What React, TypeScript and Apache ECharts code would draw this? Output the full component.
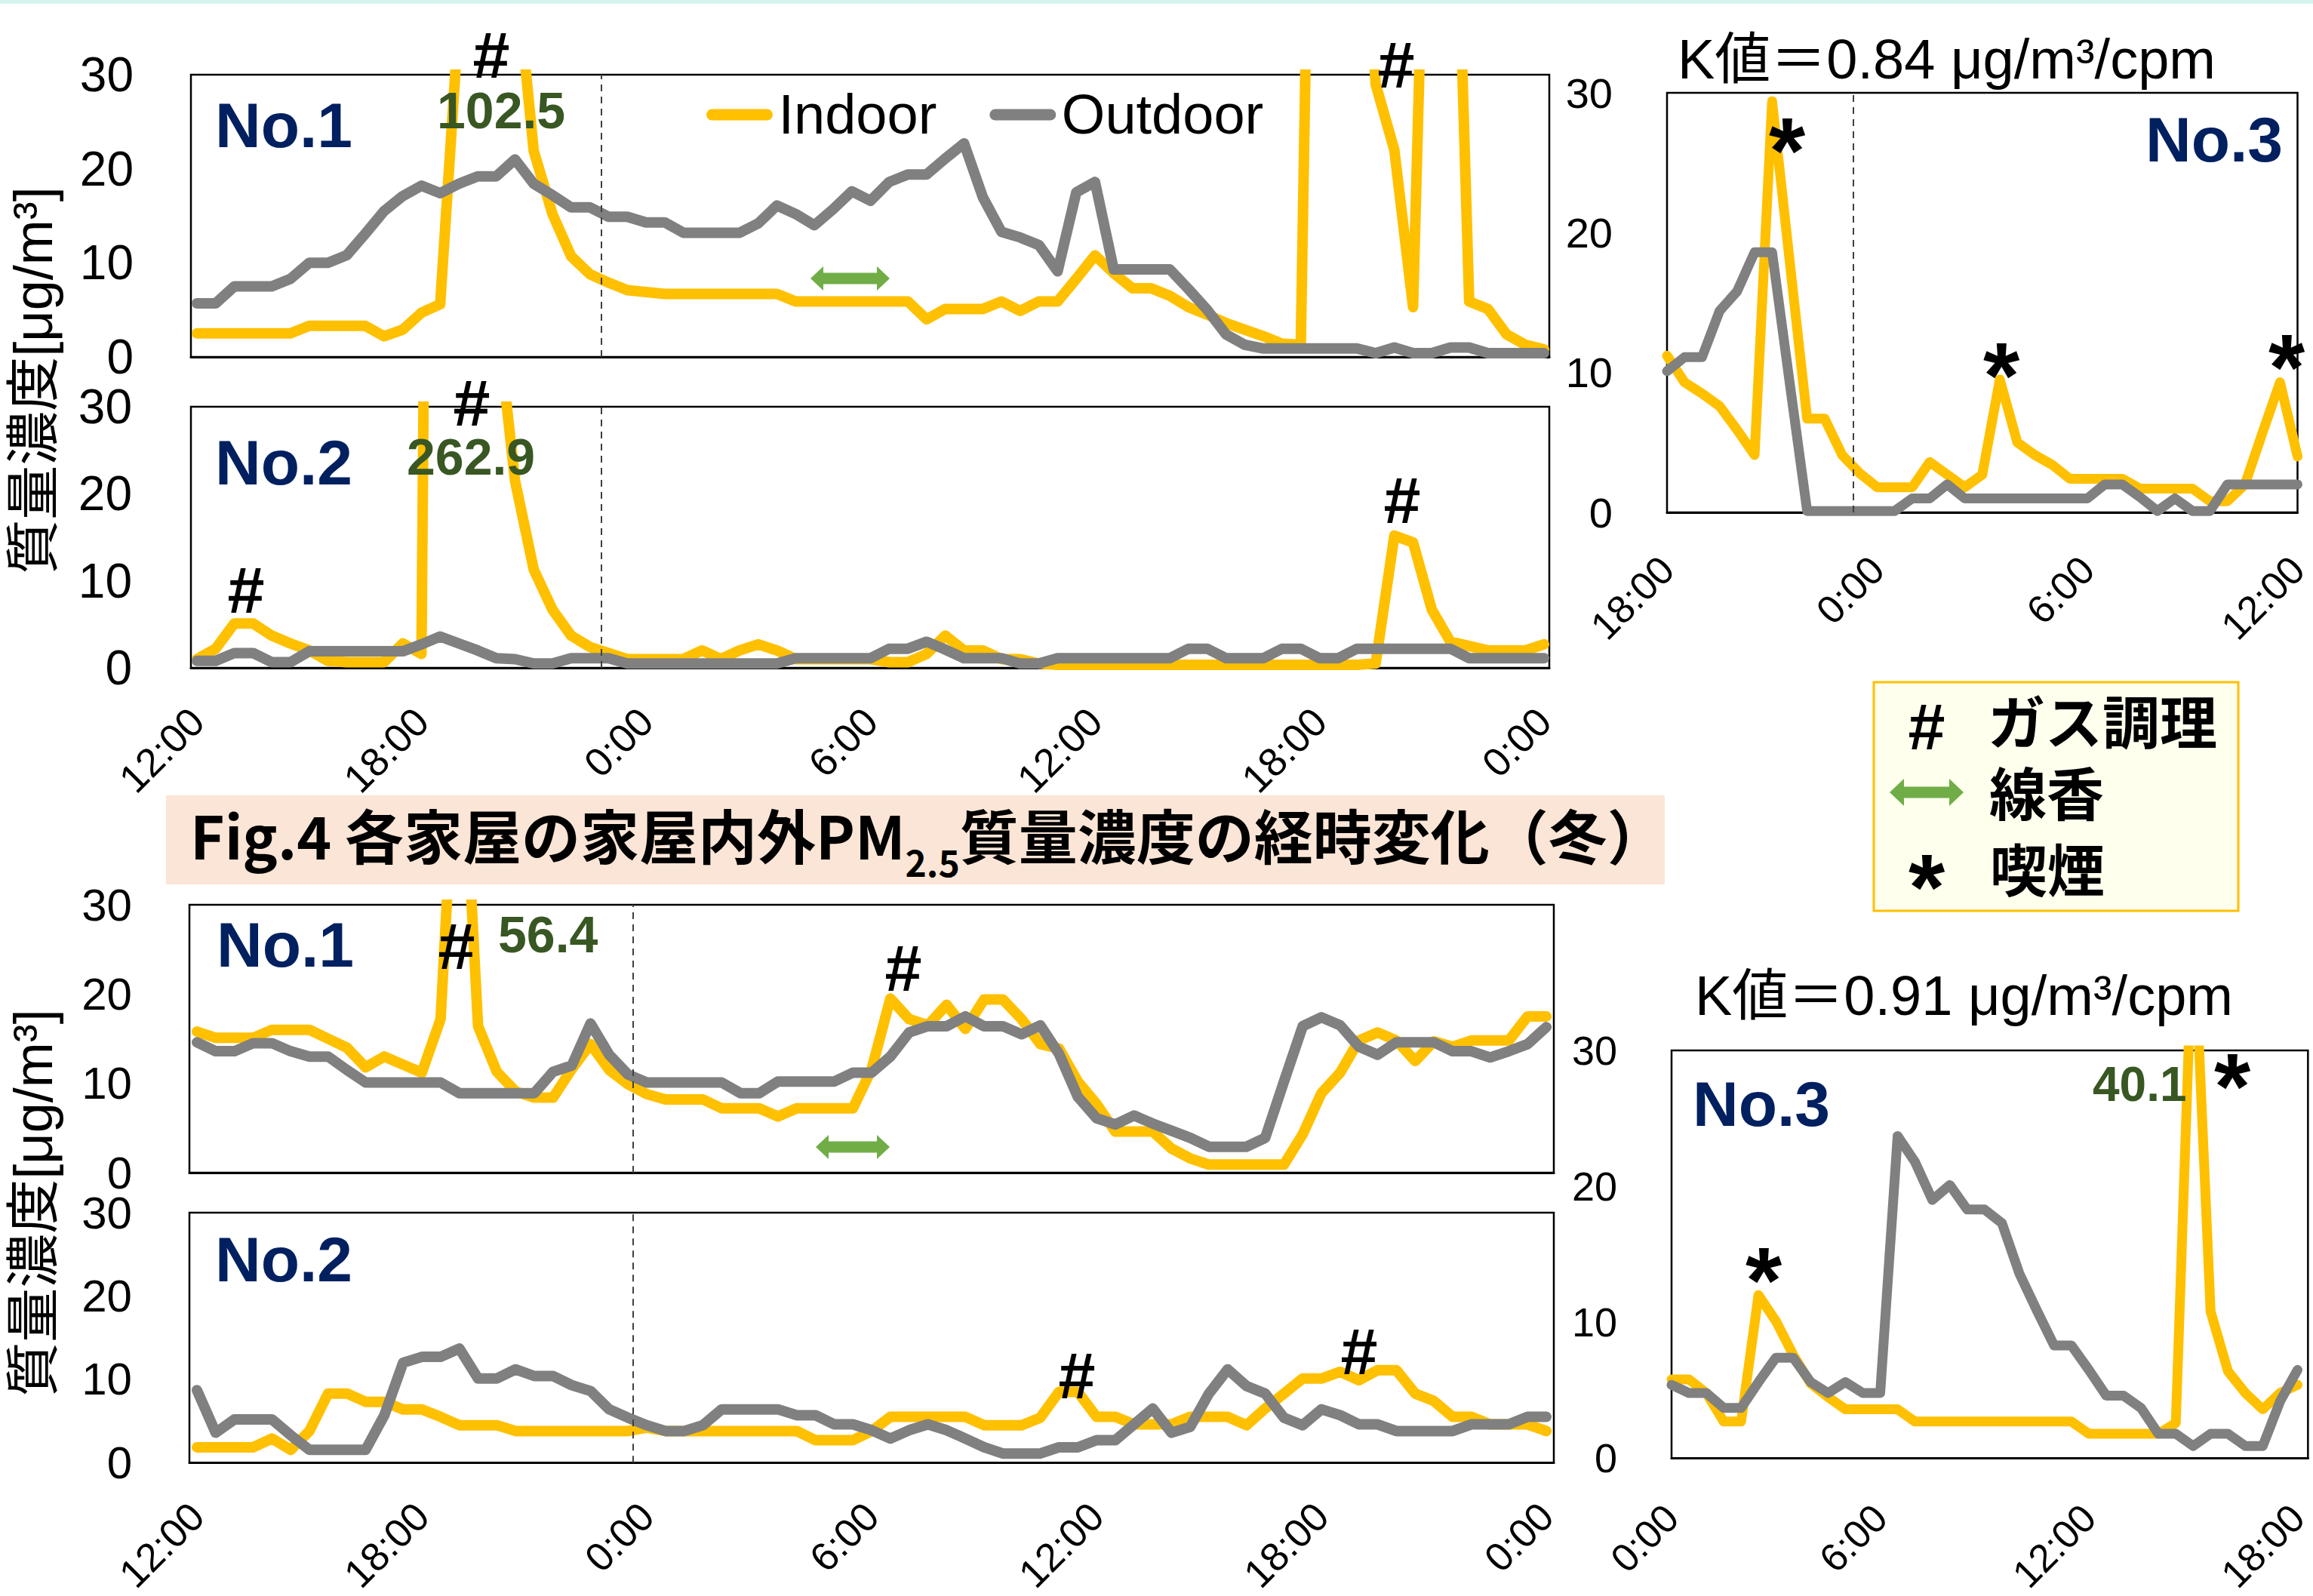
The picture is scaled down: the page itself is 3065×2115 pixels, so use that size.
import React, { useEffect, useRef } from "react";
import * as echarts from "echarts";

const W = 3065;
const H = 2115;
const FONT = "'Liberation Sans', Arial, 'Noto Sans CJK JP', sans-serif";
const JFONT = "'Noto Sans CJK JP', 'Liberation Sans', sans-serif";

const YELLOW = "#FFC000";
const GREY = "#808080";
const NAVY = "#002060";
const DKGREEN = "#385723";
const ARROW = "#70AD47";

// sampling interval (hours) of every series
const STEP_H = 0.5;

// tick labels
const labelsTwoDay = ["12:00", "18:00", "0:00", "6:00", "12:00", "18:00", "0:00"];
const labelsTopNo3 = ["18:00", "0:00", "6:00", "12:00"];
const labelsBotNo3 = ["0:00", "6:00", "12:00", "18:00"];

// ---- upper set (12:00 -> 0:00 two days later), 30-min values ----
const topNo1Indoor = [2.5, 2.5, 2.5, 2.5, 2.5, 2.5, 3.3, 3.3, 3.3, 3.3, 2.2, 2.9, 4.7, 5.6, 36, 102.5, 70, 42, 21.9, 15.2, 10.7, 8.8, 7.9, 7.1, 6.9, 6.7, 6.7, 6.7, 6.7, 6.7, 6.7, 6.7, 5.9, 5.9, 5.9, 5.9, 5.9, 5.9, 5.9, 4.0, 5.1, 5.1, 5.1, 5.9, 4.9, 5.9, 5.9, 8.3, 10.8, 8.9, 7.3, 7.3, 6.5, 5.3, 4.5, 3.6, 2.9, 2.2, 1.4, 1.3, 120, 110, 65, 29, 22, 5.3, 80, 73, 5.9, 5.1, 2.4, 1.3, 0.8];
const topNo1Outdoor = [5.7, 5.7, 7.5, 7.5, 7.5, 8.3, 10, 10, 10.8, 13.1, 15.5, 17.1, 18.2, 17.4, 18.4, 19.2, 19.2, 21, 18.4, 17.2, 15.9, 15.9, 14.9, 14.9, 14.3, 14.3, 13.2, 13.2, 13.2, 13.2, 14.2, 16.1, 15.2, 14.0, 15.7, 17.6, 16.6, 18.6, 19.4, 19.4, 21.1, 22.7, 17, 13.3, 12.7, 11.9, 9.1, 17.5, 18.6, 9.3, 9.3, 9.3, 9.3, 7.2, 5.0, 2.4, 1.3, 0.9, 0.9, 0.9, 0.9, 0.9, 0.9, 0.4, 1.0, 0.4, 0.4, 1.0, 1.0, 0.4, 0.4, 0.4, 0.4];
const topNo2Indoor = [1.0, 2.2, 5.1, 5.1, 3.7, 2.8, 2.0, 0.8, 0.65, 0.65, 0.65, 2.8, 1.6, 262.9, 180, 90, 41, 21.5, 11.3, 6.7, 3.7, 2.4, 1.7, 1.0, 1.0, 1.0, 1.0, 2.0, 1.0, 2.0, 2.7, 2.0, 1.0, 1.0, 1.0, 1.0, 1.0, 0.65, 0.65, 1.6, 3.7, 2.0, 2.0, 1.0, 1.0, 0.5, 0.35, 0.35, 0.35, 0.35, 0.35, 0.35, 0.35, 0.35, 0.35, 0.35, 0.35, 0.35, 0.35, 0.35, 0.35, 0.35, 0.35, 0.5, 15.2, 14.4, 6.7, 3.0, 2.5, 2.0, 2.0, 2.0, 2.7];
const topNo2Outdoor = [0.8, 0.8, 1.7, 1.7, 0.65, 0.65, 1.9, 1.9, 1.9, 1.9, 1.9, 1.9, 2.7, 3.6, 2.8, 2.0, 1.1, 1.0, 0.5, 0.5, 1.1, 1.1, 1.1, 0.5, 0.5, 0.5, 0.5, 0.5, 0.5, 0.5, 0.5, 0.5, 1.1, 1.1, 1.1, 1.1, 1.1, 2.2, 2.2, 3.0, 2.1, 1.1, 1.1, 1.1, 0.5, 0.5, 1.1, 1.1, 1.1, 1.1, 1.1, 1.1, 1.1, 2.2, 2.2, 1.1, 1.1, 1.1, 2.2, 2.2, 1.1, 1.1, 2.2, 2.2, 2.2, 2.2, 2.2, 2.2, 1.1, 1.1, 1.1, 1.1, 1.1];
// 18:00 -> 12:00
const topNo3Indoor = [11.2, 9.3, 8.5, 7.6, 5.9, 4.1, 29.4, 18, 6.7, 6.7, 4.1, 2.8, 1.8, 1.8, 1.8, 3.6, 2.7, 1.8, 2.7, 9.5, 5.0, 4.1, 3.4, 2.4, 2.4, 2.4, 2.4, 1.7, 1.7, 1.7, 1.7, 0.8, 0.8, 2.0, 5.7, 9.3, 4.0];
const topNo3Outdoor = [10.1, 11.1, 11.1, 14.4, 15.8, 18.6, 18.6, 9.3, 0.1, 0.1, 0.1, 0.1, 0.1, 0.1, 1.0, 1.0, 2.0, 1.0, 1.0, 1.0, 1.0, 1.0, 1.0, 1.0, 1.0, 2.0, 2.0, 1.1, 0.1, 1.0, 0.1, 0.1, 2.0, 2.0, 2.0, 2.0, 2.0];

// ---- lower set ----
const botNo1Indoor = [15.8, 15.1, 15.1, 15.1, 16.0, 16.0, 16.0, 15.0, 14.0, 11.8, 13.0, 12.1, 11.2, 17.2, 56.4, 16.4, 11.3, 9.1, 8.4, 8.4, 11.6, 14.4, 11.5, 9.9, 8.8, 8.2, 8.2, 8.2, 7.2, 7.2, 7.2, 6.3, 7.2, 7.2, 7.2, 7.2, 11.6, 19.5, 17.2, 16.5, 18.8, 16.1, 19.4, 19.4, 17.2, 14.4, 13.9, 10.2, 7.7, 4.6, 4.6, 4.6, 2.7, 1.6, 0.9, 0.9, 0.9, 0.9, 0.9, 4.3, 8.9, 11.2, 14.8, 15.7, 14.8, 12.5, 14.7, 14.1, 14.8, 14.8, 14.8, 17.5, 17.5];
const botNo1Outdoor = [14.6, 13.6, 13.6, 14.5, 14.5, 13.6, 13.0, 13.0, 11.5, 10.1, 10.1, 10.1, 10.1, 10.1, 8.9, 8.9, 8.9, 8.9, 8.9, 11.3, 12.0, 16.7, 13.2, 11.0, 10.1, 10.1, 10.1, 10.1, 10.1, 8.9, 8.9, 10.2, 10.2, 10.2, 10.2, 11.2, 11.2, 13.0, 15.7, 16.4, 16.4, 17.5, 16.4, 16.4, 15.5, 16.5, 13.3, 8.5, 6.1, 5.4, 6.4, 5.5, 4.7, 3.9, 2.9, 2.9, 2.9, 3.9, 10.2, 16.4, 17.4, 16.5, 14.1, 13.2, 14.6, 14.6, 14.6, 13.6, 13.6, 12.9, 13.6, 14.4, 16.3];
const botNo2Indoor = [1.85, 1.85, 1.85, 1.85, 2.9, 1.55, 3.8, 8.3, 8.3, 7.3, 7.3, 6.4, 6.4, 5.5, 4.5, 4.5, 4.5, 3.8, 3.8, 3.8, 3.8, 3.8, 3.8, 3.8, 4.2, 3.8, 3.8, 3.8, 3.8, 3.8, 3.8, 3.8, 3.8, 2.7, 2.7, 2.7, 3.8, 5.5, 5.5, 5.5, 5.5, 5.5, 4.5, 4.5, 4.5, 5.4, 8.5, 8.5, 5.5, 5.5, 4.6, 4.6, 4.6, 5.5, 5.5, 5.5, 4.5, 6.5, 8.3, 10.1, 10.1, 10.9, 9.9, 11.1, 11.1, 8.3, 7.4, 5.5, 5.5, 4.6, 4.6, 4.6, 3.8];
const botNo2Outdoor = [8.7, 3.6, 5.2, 5.2, 5.2, 3.3, 1.55, 1.55, 1.55, 1.55, 5.7, 12.0, 12.7, 12.7, 13.7, 10.1, 10.1, 11.2, 10.4, 10.4, 9.3, 8.6, 6.4, 5.4, 4.5, 3.8, 3.8, 4.5, 6.4, 6.4, 6.4, 6.4, 5.7, 5.7, 4.6, 4.6, 3.9, 2.9, 3.9, 4.6, 3.9, 2.9, 1.85, 1.1, 1.1, 1.1, 1.85, 1.85, 2.7, 2.7, 4.6, 6.5, 3.6, 4.3, 8.3, 11.2, 9.2, 8.3, 5.4, 4.5, 6.4, 5.7, 4.6, 4.6, 3.8, 3.8, 3.8, 3.8, 4.6, 4.6, 4.6, 5.5, 5.5];
// 0:00 -> 18:00
const botNo3Indoor = [5.8, 5.8, 4.8, 2.7, 2.7, 12.0, 10.1, 7.6, 5.5, 4.5, 3.6, 3.6, 3.6, 3.6, 2.7, 2.7, 2.7, 2.7, 2.7, 2.7, 2.7, 2.7, 2.7, 2.7, 1.8, 1.8, 1.8, 1.8, 1.8, 2.6, 40.1, 10.8, 6.4, 4.8, 3.6, 4.8, 5.4];
const botNo3Outdoor = [5.4, 4.8, 4.8, 3.7, 3.7, 5.6, 7.4, 7.4, 5.6, 4.8, 5.6, 4.8, 4.8, 23.7, 21.8, 19.0, 20.1, 18.3, 18.3, 17.3, 13.6, 10.9, 8.3, 8.3, 6.5, 4.6, 4.6, 3.7, 1.8, 1.8, 0.9, 1.8, 1.8, 0.9, 0.9, 4.2, 6.5];

// dashed reference lines (hours from axis start)
const dashTop = 10.8;
const dashBot = 11.63;
const dashTopNo3 = 5.32;

const toPairs = (vals: number[]) => vals.map((v, i) => [i * STEP_H, v]);

function makeX(gridIndex: number, min: number, max: number, labels: string[], show: boolean, fontSize: number, margin: number) {
  const ticks = labels.map((_, k) => k * 6);
  return {
    type: "value",
    gridIndex,
    min,
    max,
    axisLine: { show: true, onZero: false, lineStyle: { color: "#000", width: 3 } },
    axisTick: { show: false, customValues: ticks },
    splitLine: { show: false },
    axisLabel: {
      show,
      customValues: ticks,
      formatter: (v: number) => labels[Math.round(v / 6)] ?? "",
      rotate: 45,
      fontSize,
      margin,
      color: "#000",
      fontFamily: FONT,
    },
  };
}

function makeY(gridIndex: number, fontSize: number, margin: number) {
  return {
    type: "value",
    gridIndex,
    min: 0,
    max: 30,
    interval: 10,
    axisLine: { show: false },
    axisTick: { show: false },
    splitLine: { show: false },
    axisLabel: { fontSize, margin, color: "#000", fontFamily: FONT },
  };
}

function line(name: string, vals: number[], idx: number, width: number, dashX?: number) {
  const color = name === "Indoor" ? YELLOW : GREY;
  const s: any = {
    type: "line",
    name,
    xAxisIndex: idx,
    yAxisIndex: idx,
    data: toPairs(vals),
    symbol: "none",
    showSymbol: false,
    lineStyle: { color, width, join: "round", cap: "round" },
    itemStyle: { color },
    z: name === "Indoor" ? 2 : 3,
    silent: true,
  };
  if (dashX !== undefined) {
    s.markLine = {
      silent: true,
      symbol: ["none", "none"],
      label: { show: false },
      lineStyle: { type: [9, 7], color: "#404040", width: 2 },
      data: [{ xAxis: dashX }],
    };
  }
  return s;
}

function txt(text: string, x: number, y: number, size: number, o: any = {}) {
  return {
    type: "text",
    x,
    y,
    z: 100,
    silent: true,
    rotation: o.rot ?? 0,
    style: {
      text,
      fontSize: size,
      fontFamily: o.family ?? FONT,
      fontWeight: o.bold ? "bold" : "normal",
      fill: o.color ?? "#000",
      align: o.align ?? "left",
      verticalAlign: "middle",
    },
  };
}

function arrow(x0: number, x1: number, cy: number, hl: number, hh: number, sh: number) {
  return {
    type: "polygon",
    z: 100,
    silent: true,
    shape: {
      points: [
        [x0, cy], [x0 + hl, cy - hh], [x0 + hl, cy - sh], [x1 - hl, cy - sh], [x1 - hl, cy - hh],
        [x1, cy], [x1 - hl, cy + hh], [x1 - hl, cy + sh], [x0 + hl, cy + sh], [x0 + hl, cy + hh],
      ],
    },
    style: { fill: ARROW },
  };
}

export default function App() {
  const ref = useRef<HTMLDivElement>(null);

  useEffect(() => {
    if (!ref.current) return;
    const chart = echarts.init(ref.current, null, { renderer: "svg", width: W, height: H });

    const gridBase = { show: true, borderColor: "#000", borderWidth: 2.5, containLabel: false };
    const grids = [
      { left: 253, top: 99, width: 1800, height: 374 },
      { left: 253, top: 539, width: 1800, height: 346 },
      { left: 2209, top: 123, width: 853, height: 556 },
      { left: 251, top: 1199, width: 1808, height: 355 },
      { left: 251, top: 1607, width: 1808, height: 355 },
      { left: 2215, top: 1392, width: 860, height: 556 },
    ].map((g) => ({ ...gridBase, ...g }));

    const xAxes = [
      makeX(0, -0.161, 36.141, labelsTwoDay, false, 53, 62),
      makeX(1, -0.161, 36.141, labelsTwoDay, true, 53, 62),
      makeX(2, 0, 18, labelsTopNo3, true, 52, 67),
      makeX(3, -0.201, 36.2, labelsTwoDay, false, 53, 62),
      makeX(4, -0.201, 36.2, labelsTwoDay, true, 53, 62),
      makeX(5, 0, 18.3, labelsBotNo3, true, 52, 70),
    ];
    const yAxes = [makeY(0, 64, 76), makeY(1, 64, 78), makeY(2, 56, 72), makeY(3, 60, 76), makeY(4, 60, 76), makeY(5, 54, 72)];

    const series = [
      line("Indoor", topNo1Indoor, 0, 14, dashTop),
      line("Outdoor", topNo1Outdoor, 0, 14),
      line("Indoor", topNo2Indoor, 1, 14, dashTop),
      line("Outdoor", topNo2Outdoor, 1, 14),
      line("Indoor", topNo3Indoor, 2, 13, dashTopNo3),
      line("Outdoor", topNo3Outdoor, 2, 13),
      line("Indoor", botNo1Indoor, 3, 14, dashBot),
      line("Outdoor", botNo1Outdoor, 3, 14),
      line("Indoor", botNo2Indoor, 4, 14, dashBot),
      line("Outdoor", botNo2Outdoor, 4, 14),
      line("Indoor", botNo3Indoor, 5, 13),
      line("Outdoor", botNo3Outdoor, 5, 13),
    ];

    const yTitle = "質量濃度[μg/m³]";
    const elements: any[] = [
      { type: "rect", z: 0, silent: true, shape: { x: 0, y: 0, width: W, height: 5 }, style: { fill: "#D6F4F0" } },
      { type: "rect", z: 0, silent: true, shape: { x: 220, y: 1054, width: 1986, height: 118 }, style: { fill: "#FBE5D6" } },
      {
        type: "text",
        x: 252,
        y: 1105,
        z: 100,
        silent: true,
        style: {
          text: "{a|Fig.4 各家屋の家屋内外PM}{s|2.5}{a|質量濃度の経時変化（冬）}",
          align: "left",
          verticalAlign: "middle",
          rich: {
            a: { fontSize: 78, fontWeight: "bold", fontFamily: JFONT, lineHeight: 120, verticalAlign: "middle", fill: "#000" },
            s: { fontSize: 48, fontWeight: "bold", fontFamily: JFONT, lineHeight: 48, verticalAlign: "bottom", fill: "#000" },
          },
        },
      },
      // legend box for annotation symbols
      { type: "rect", z: 50, silent: true, shape: { x: 2483, y: 904, width: 483, height: 303 }, style: { fill: "#FFFFEE", stroke: "#FFC000", lineWidth: 3 } },
      txt("#", 2553, 962, 88, { bold: true, align: "center" }),
      txt("ガス調理", 2634, 953, 76, { bold: true, family: JFONT }),
      arrow(2504, 2602, 1050, 19, 18, 7.5),
      txt("線香", 2636, 1048, 76, { bold: true, family: JFONT }),
      txt("*", 2553, 1176, 124, { bold: true, align: "center" }),
      txt("喫煙", 2637, 1149, 76, { bold: true, family: JFONT }),
      // K values
      txt("K値＝0.84 μg/m³/cpm", 2223, 78, 74),
      txt("K値＝0.91 μg/m³/cpm", 2246, 1319, 74),
      // y titles
      txt(yTitle, 44, 504, 72, { rot: Math.PI / 2, align: "center" }),
      txt(yTitle, 44, 1594, 72, { rot: Math.PI / 2, align: "center" }),
      // house labels
      txt("No.1", 285, 166, 84, { bold: true, color: NAVY }),
      txt("No.2", 285, 613, 84, { bold: true, color: NAVY }),
      txt("No.3", 3025, 185, 84, { bold: true, color: NAVY, align: "right" }),
      txt("No.1", 287, 1252, 84, { bold: true, color: NAVY }),
      txt("No.2", 285, 1669, 84, { bold: true, color: NAVY }),
      txt("No.3", 2243, 1463, 84, { bold: true, color: NAVY }),
      // off-scale peak values
      txt("102.5", 579, 146, 68, { bold: true, color: DKGREEN }),
      txt("262.9", 539, 605, 68, { bold: true, color: DKGREEN }),
      txt("56.4", 660, 1238, 68, { bold: true, color: DKGREEN }),
      txt("40.1", 2773, 1437, 64, { bold: true, color: DKGREEN }),
      // gas cooking marks
      txt("#", 651, 72, 88, { bold: true, align: "center" }),
      txt("#", 1850, 85, 88, { bold: true, align: "center" }),
      txt("#", 326, 781, 88, { bold: true, align: "center" }),
      txt("#", 625, 533, 88, { bold: true, align: "center" }),
      txt("#", 1858, 662, 88, { bold: true, align: "center" }),
      txt("#", 605, 1253, 88, { bold: true, align: "center" }),
      txt("#", 1197, 1282, 88, { bold: true, align: "center" }),
      txt("#", 1427, 1822, 88, { bold: true, align: "center" }),
      txt("#", 1801, 1790, 88, { bold: true, align: "center" }),
      // smoking marks
      txt("*", 2368, 200, 124, { bold: true, align: "center" }),
      txt("*", 2652, 498, 124, { bold: true, align: "center" }),
      txt("*", 3030, 487, 124, { bold: true, align: "center" }),
      txt("*", 2337, 1697, 124, { bold: true, align: "center" }),
      txt("*", 2958, 1440, 124, { bold: true, align: "center" }),
      // incense arrows
      arrow(1074, 1179, 369, 17, 16, 7.5),
      arrow(1081, 1179, 1520, 17, 16, 7.5),
    ];

    chart.setOption({
      animation: false,
      backgroundColor: "#fff",
      textStyle: { fontFamily: FONT },
      grid: grids,
      xAxis: xAxes,
      yAxis: yAxes,
      legend: {
        data: ["Indoor", "Outdoor"],
        left: 931,
        top: 110,
        itemWidth: 73,
        itemHeight: 16,
        itemGap: 70,
        selectedMode: false,
        textStyle: { fontSize: 74, color: "#000", fontFamily: FONT, padding: [0, 0, 0, 10] },
        lineStyle: { width: 15, cap: "round" },
      },
      series,
      graphic: { elements },
    });

    return () => chart.dispose();
  }, []);

  return <div ref={ref} style={{ position: "absolute", left: 0, top: 0, width: W, height: H, background: "#fff" }} />;
}
